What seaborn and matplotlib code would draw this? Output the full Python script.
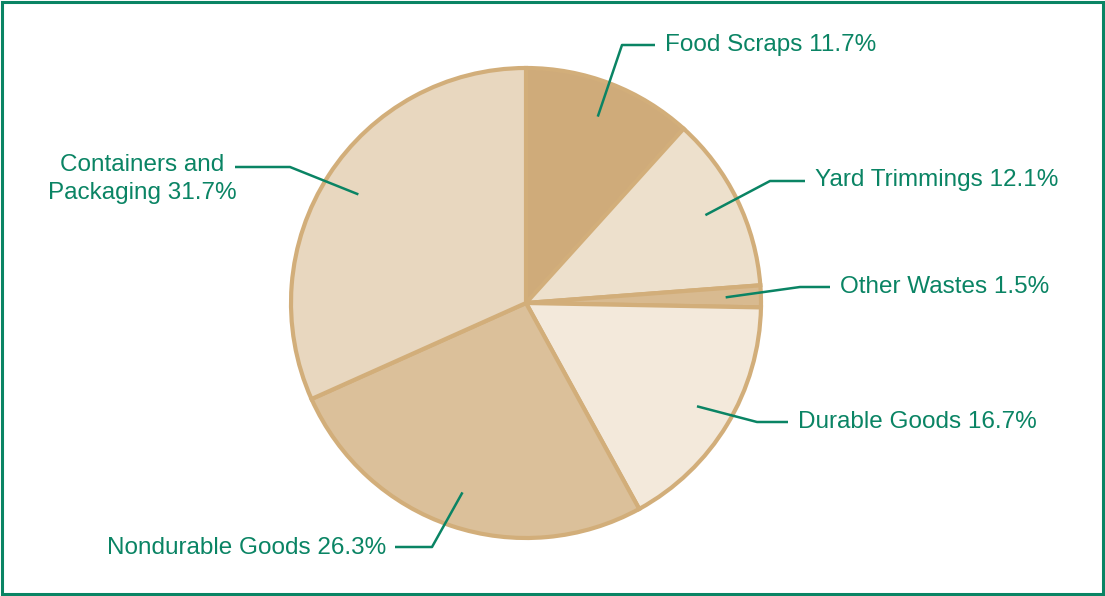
import numpy as np
import matplotlib.pyplot as plt
import seaborn as sns
from matplotlib.patches import Rectangle

# data
categories = ['Food Scraps', 'Yard Trimmings', 'Other Wastes', 'Durable Goods',
              'Nondurable Goods', 'Containers and\nPackaging']
shares = [11.7, 12.1, 1.5, 16.7, 26.3, 31.7]
colors = ['#CFAB7A', '#EDE0CC', '#D8BA90', '#F3E9DB', '#DBC09A', '#E8D7BF']

sns.set_theme(style='white')
plt.rcParams['font.family'] = ['Liberation Sans', 'DejaVu Sans']

green = '#0A8464'
W, H = 1105, 596
fig = plt.figure(figsize=(W / 100, H / 100), dpi=100)
ax = fig.add_axes([0, 0, 1, 1])

cx, cy, r = 526, H - 303, 235
wedges, _ = ax.pie(shares, colors=colors, startangle=90, counterclock=False,
                   center=(cx, cy), radius=r, frame=True,
                   wedgeprops=dict(edgecolor='#D2AE7A', linewidth=3))
ax.set_xlim(0, W)
ax.set_ylim(0, H)
ax.set_aspect('equal')
ax.axis('off')

# elbow point, end of horizontal, text anchor (pixel coords from top)
leaders = [
    ((622, 45), (655, 45), (665, 45), 'left'),
    ((770, 181), (805, 181), (815, 180), 'left'),
    ((800, 287), (830, 287), (840, 287), 'left'),
    ((757, 422), (788, 422), (798, 422), 'left'),
    ((432, 547), (395, 547), (386, 548), 'right'),
    ((290, 167), (235, 167), (142, 179), 'center'),
]

for w, cat, val, (elb, end, txt, ha) in zip(wedges, categories, shares, leaders):
    mid = np.deg2rad((w.theta1 + w.theta2) / 2)
    sx = cx + 0.85 * r * np.cos(mid)
    sy = cy + 0.85 * r * np.sin(mid)
    ax.plot([sx, elb[0], end[0]], [sy, H - elb[1], H - end[1]],
            color=green, lw=1.8, solid_capstyle='butt')
    ax.text(txt[0], H - txt[1], f'{cat} {val}%', color=green, fontsize=17.5,
            ha=ha, va='center', multialignment='center', linespacing=1.35)

fig.patches.append(Rectangle((0.002, 0.003), 0.996, 0.994, transform=fig.transFigure,
                             fill=False, edgecolor=green, linewidth=2.2))

fig.savefig('out.png', dpi=100)
